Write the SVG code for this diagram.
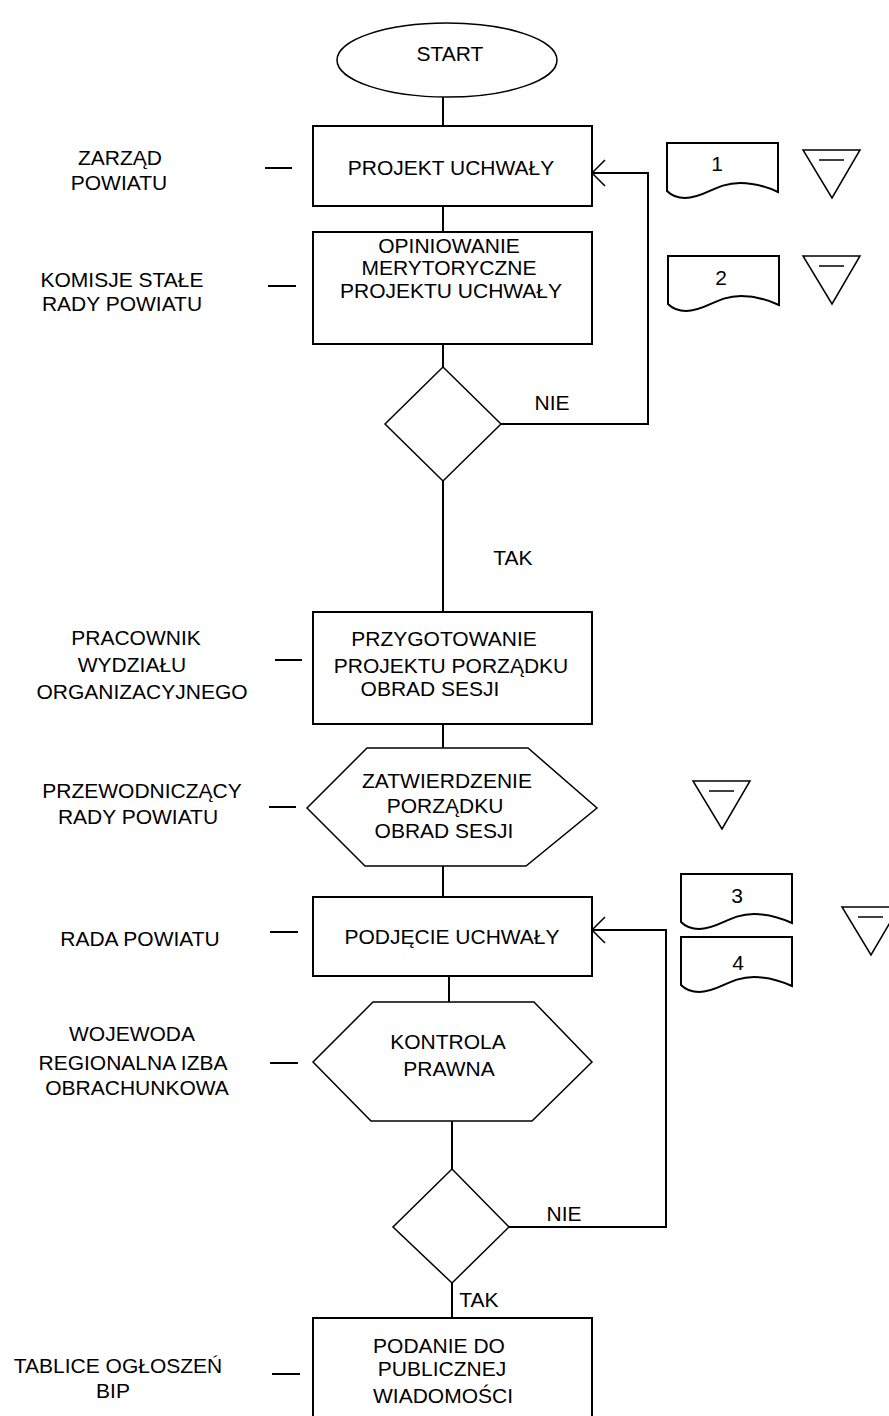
<svg xmlns="http://www.w3.org/2000/svg" width="889" height="1416" viewBox="0 0 889 1416">
<style>
text{font-family:"Liberation Sans",Arial,sans-serif;font-size:21px;fill:#000;text-anchor:middle}
.s{fill:#fff;stroke:#000;stroke-width:2}
.d{fill:#fff;stroke:#000;stroke-width:1.5}
.c{fill:none;stroke:#000;stroke-width:2}
</style>
<defs>
<marker id="ah" markerUnits="userSpaceOnUse" markerWidth="20" markerHeight="32" viewBox="-16 -16 20 32" refX="0" refY="0" orient="auto" overflow="visible">
<path d="M-13,-13 L0,0 L-13,13" fill="none" stroke="#000" stroke-width="1.5"/>
</marker>
<path id="doc" d="M0,0 H111 V49 C98,43 88,40 73,40 C48,40 38,55 18,55 C10,55 4,52 0,48 Z"/>
<g id="tri"><path d="M0,0 H57 L29,48 Z"/><path d="M16,10 H41"/></g>
</defs>
<g id="connectors" class="c">
<path d="M443,97 V126"/>
<path d="M443,206 V232"/>
<path d="M443,344 V367"/>
<path d="M501,424 H648 V173 H592" marker-end="url(#ah)"/>
<path d="M443,481 V612"/>
<path d="M443,724 V748"/>
<path d="M443,866 V897"/>
<path d="M449,976 V1002"/>
<path d="M452,1121 V1169"/>
<path d="M509,1227 H666 V930 H592" marker-end="url(#ah)"/>
<path d="M452,1283 V1318"/>
<path d="M265,168 H292"/>
<path d="M268,286 H296"/>
<path d="M275,660 H302"/>
<path d="M269,807 H296"/>
<path d="M270,932 H298"/>
<path d="M270,1063 H298"/>
<path d="M272,1374 H300"/>
</g>
<g id="labels">
<text x="552" y="410">NIE</text>
<text x="513" y="565">TAK</text>
<text x="564" y="1221">NIE</text>
<text x="479" y="1307">TAK</text>
</g>
<g id="start"><ellipse class="d" cx="447" cy="60" rx="110" ry="37"/><text x="450" y="61">START</text></g>
<g id="projekt"><rect class="s" x="313" y="126" width="279" height="80"/><text x="451" y="175">PROJEKT UCHWAŁY</text></g>
<g id="opiniowanie"><rect class="s" x="313" y="232" width="279" height="112"/>
<text x="449" y="253">OPINIOWANIE</text><text x="449" y="275">MERYTORYCZNE</text><text x="451" y="298">PROJEKTU UCHWAŁY</text></g>
<g id="decyzja1"><path class="d" d="M443,367 L501,424 L443,481 L385,424 Z"/></g>
<g id="przygotowanie"><rect class="s" x="313" y="612" width="279" height="112"/>
<text x="444" y="646">PRZYGOTOWANIE</text><text x="451" y="673">PROJEKTU PORZĄDKU</text><text x="430" y="696">OBRAD SESJI</text></g>
<g id="zatwierdzenie"><path class="d" d="M367,748 H528 L597,808 L526,866 H365 L307,808 Z"/>
<text x="447" y="788">ZATWIERDZENIE</text><text x="445" y="813">PORZĄDKU</text><text x="444" y="838">OBRAD SESJI</text></g>
<g id="podjecie"><rect class="s" x="313" y="897" width="279" height="79"/><text x="452" y="944">PODJĘCIE UCHWAŁY</text></g>
<g id="kontrola"><path class="d" d="M373,1002 H534 L592,1062 L532,1121 H371 L313,1062 Z"/>
<text x="448" y="1049">KONTROLA</text><text x="449" y="1076">PRAWNA</text></g>
<g id="decyzja2"><path class="d" d="M452,1169 L509,1227 L452,1283 L393,1227 Z"/></g>
<g id="podanie"><rect class="s" x="313" y="1318" width="279" height="110"/>
<text x="439" y="1353">PODANIE DO</text><text x="442" y="1376">PUBLICZNEJ</text><text x="443" y="1403">WIADOMOŚCI</text></g>
<g id="left-labels">
<text x="120" y="165">ZARZĄD</text><text x="119" y="190">POWIATU</text>
<text x="122" y="287">KOMISJE STAŁE</text><text x="122" y="311">RADY POWIATU</text>
<text x="136" y="645">PRACOWNIK</text><text x="132" y="672">WYDZIAŁU</text><text x="142" y="699">ORGANIZACYJNEGO</text>
<text x="142" y="798">PRZEWODNICZĄCY</text><text x="138" y="824">RADY POWIATU</text>
<text x="140" y="946">RADA POWIATU</text>
<text x="132" y="1041">WOJEWODA</text><text x="133" y="1070">REGIONALNA IZBA</text><text x="137" y="1095">OBRACHUNKOWA</text>
<text x="118" y="1373">TABLICE OGŁOSZEŃ</text><text x="113" y="1398">BIP</text>
</g>
<g id="doc1"><use href="#doc" class="s" x="667" y="143"/><text x="717" y="171">1</text></g>
<g id="doc2"><use href="#doc" class="s" x="668" y="256"/><text x="721" y="285">2</text></g>
<g id="doc3"><use href="#doc" class="s" x="681" y="874"/><text x="737" y="903">3</text></g>
<g id="doc4"><use href="#doc" class="s" x="681" y="937"/><text x="738" y="970">4</text></g>
<g id="tri1" class="d"><use href="#tri" x="803" y="150"/></g>
<g id="tri2" class="d"><use href="#tri" x="803" y="256"/></g>
<g id="tri3" class="d"><use href="#tri" x="693" y="781"/></g>
<g id="tri4" class="d"><use href="#tri" x="842" y="907"/></g>
</svg>
